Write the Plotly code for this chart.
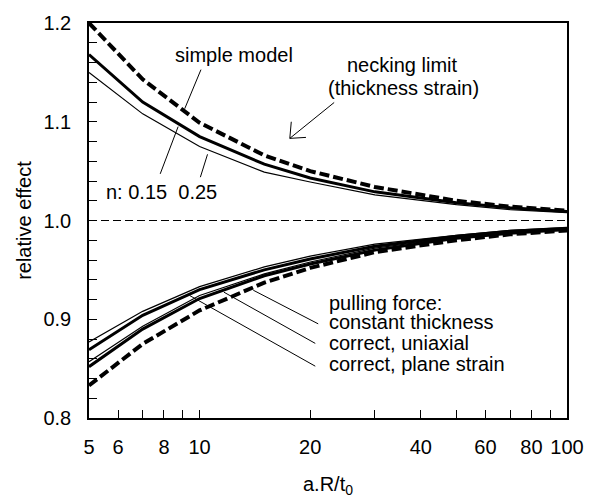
import plotly.graph_objects as go
import math

# ---- data ----
x_vals = [5, 7, 10, 15, 20, 30, 50, 70, 100]

necking_upper = [1.200, 1.143, 1.099, 1.066, 1.050, 1.034, 1.020, 1.014, 1.010]
simple_015 = [1.168, 1.120, 1.085, 1.057, 1.043, 1.029, 1.018, 1.013, 1.009]
simple_025 = [1.150, 1.108, 1.075, 1.049, 1.039, 1.026, 1.016, 1.011, 1.008]

pf_const_025 = [0.877, 0.908, 0.933, 0.953, 0.964, 0.976, 0.985, 0.990, 0.993]
pf_const_015 = [0.869, 0.904, 0.930, 0.950, 0.961, 0.974, 0.984, 0.989, 0.992]
pf_uni_025 = [0.857, 0.893, 0.924, 0.946, 0.958, 0.972, 0.983, 0.988, 0.991]
pf_uni_015 = [0.852, 0.890, 0.921, 0.944, 0.956, 0.970, 0.982, 0.987, 0.991]
pf_plane = [0.833, 0.875, 0.909, 0.937, 0.952, 0.968, 0.980, 0.986, 0.990]

x_tickvals = [5, 6, 8, 10, 20, 40, 60, 80, 100]
x_ticktext = ["5", "6", "8", "10", "20", "40", "60", "80", "100"]
x_minorvals = [7, 9, 30, 50, 70, 90]
y_tickvals = [0.8, 0.9, 1.0, 1.1, 1.2]
y_ticktext = ["0.8", "0.9", "1.0", "1.1", "1.2"]
y_minorvals = [0.82, 0.84, 0.86, 0.88, 0.92, 0.94, 0.96, 0.98,
               1.02, 1.04, 1.06, 1.08, 1.12, 1.14, 1.16, 1.18]

FONT = "Liberation Sans, Arial, sans-serif"
FS = 20
W, H = 596, 501
L, R, T, B = 89, 577, 14, 418


def px(X):
    return (X - L) / (R - L)


def py(Y):
    return (B - Y) / (B - T)


fig = go.Figure()

thick = dict(color="black", width=3)
thin = dict(color="black", width=1.2)
dash = dict(color="black", width=4, dash="10px,4px")

series = [
    (necking_upper, dash, "necking limit"),
    (simple_015, thick, "simple model n=0.15"),
    (simple_025, thin, "simple model n=0.25"),
    (pf_const_025, thin, "constant thickness n=0.25"),
    (pf_const_015, thick, "constant thickness n=0.15"),
    (pf_uni_025, thin, "correct, uniaxial n=0.25"),
    (pf_uni_015, thick, "correct, uniaxial n=0.15"),
    (pf_plane, dash, "correct, plane strain"),
]
for ys, ln, name in series:
    fig.add_trace(go.Scatter(x=x_vals, y=ys, mode="lines", line=ln, name=name,
                             showlegend=False, hoverinfo="skip"))

shapes = []
# reference line at 1.0
shapes.append(dict(type="line", xref="paper", yref="y", x0=0, x1=1, y0=1.0, y1=1.0,
                   line=dict(color="black", width=1, dash="8px,4px")))


def seg(x0, y0, x1, y1, w=1):
    shapes.append(dict(type="line", xref="paper", yref="paper",
                       x0=px(x0), y0=py(y0), x1=px(x1), y1=py(y1),
                       line=dict(color="black", width=w)))


# leader lines
seg(203.3, 61.7, 186.7, 101.7)
seg(180, 120, 161.7, 168.3)
seg(210, 148.3, 202.7, 171.7)
seg(256.7, 287.3, 323, 321.7)
seg(226.7, 289.3, 320, 341.7)
seg(191.7, 292.7, 320, 365)
# necking-limit arrow (shaft + open head)
seg(339.3, 95.3, 294, 132)
seg(294, 132, 295.5, 115)
seg(294, 132, 310.5, 131)

fig.update_layout(shapes=shapes)

ann = []


def text(X, Y, s, xanchor="center", size=FS, angle=0):
    ann.append(dict(x=px(X), y=py(Y), xref="paper", yref="paper", text=s,
                    showarrow=False, xanchor=xanchor, yanchor="middle",
                    textangle=angle, font=dict(family=FONT, size=size, color="black")))


text(237.5, 46.7, "simple model")
text(163.3, 186.7, "n: 0.15  0.25")
text(409, 57, "necking limit")
text(410, 80, "(thickness strain)")
text(332, 300, "pulling force:", xanchor="left")
text(332, 320, "constant thickness", xanchor="left")
text(332, 341, "correct, uniaxial", xanchor="left")
text(332, 363, "correct, plane strain", xanchor="left")
text(333, 487, "a.R/t<sub>0</sub>")
text(22, 216, "relative effect", angle=-90)

fig.update_layout(annotations=ann)

fig.update_xaxes(type="log", range=[math.log10(5), 2],
                 tickmode="array", tickvals=x_tickvals, ticktext=x_ticktext,
                 ticks="inside", ticklen=8, tickwidth=1, tickcolor="black",
                 minor=dict(tickmode="array", tickvals=x_minorvals, ticks="inside",
                            ticklen=8, tickwidth=1, tickcolor="black", showgrid=False),
                 showline=True, linecolor="black", linewidth=1.5, mirror=True,
                 showgrid=False, zeroline=False, ticklabelstandoff=10,
                 tickfont=dict(family=FONT, size=FS, color="black"))
fig.update_yaxes(range=[0.8, 1.2], tickmode="array", tickvals=y_tickvals,
                 ticktext=y_ticktext,
                 ticks="inside", ticklen=8, tickwidth=1, tickcolor="black",
                 minor=dict(tickmode="array", tickvals=y_minorvals, ticks="inside",
                            ticklen=8, tickwidth=1, tickcolor="black", showgrid=False),
                 showline=True, linecolor="black", linewidth=1.5, mirror=True,
                 showgrid=False, zeroline=False, ticklabelstandoff=12,
                 tickfont=dict(family=FONT, size=FS, color="black"))

fig.update_layout(width=W, height=H, margin=dict(l=L, r=W - R, t=T, b=H - B),
                  paper_bgcolor="white", plot_bgcolor="white",
                  font=dict(family=FONT, size=FS, color="black"),
                  showlegend=False)

fig.write_html("out.html")
